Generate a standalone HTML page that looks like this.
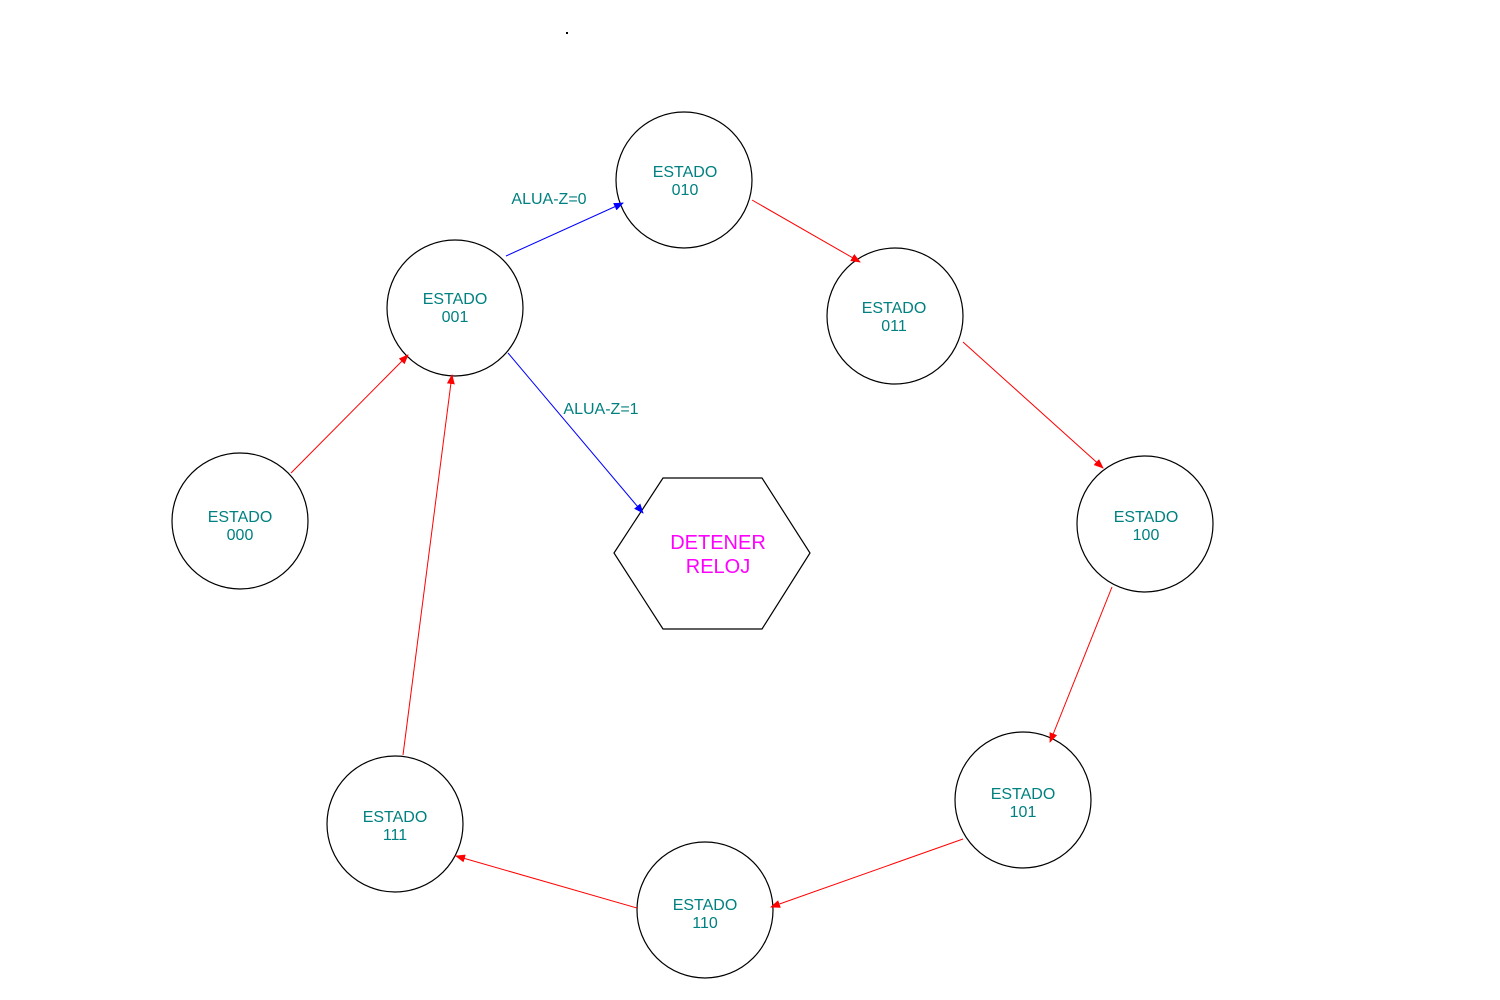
<!DOCTYPE html>
<html><head><meta charset="utf-8"><style>
html,body{margin:0;padding:0;background:#fff;width:1500px;height:1000px;overflow:hidden}
svg{display:block}
text{font-family:"Liberation Sans",sans-serif}
</style></head><body>
<svg width="1500" height="1000" viewBox="0 0 1500 1000" xmlns="http://www.w3.org/2000/svg">
<defs>
<marker id="ar" markerWidth="10" markerHeight="8" refX="9" refY="4" orient="auto" markerUnits="userSpaceOnUse"><path d="M0,0 L10,4 L0,8 z" fill="#f00"/></marker>
<marker id="ab" markerWidth="10" markerHeight="8" refX="9" refY="4" orient="auto" markerUnits="userSpaceOnUse"><path d="M0,0 L10,4 L0,8 z" fill="#00f"/></marker>
</defs>
<rect x="566" y="32" width="2" height="2" fill="#000"/>
<g fill="none" stroke="#000" stroke-width="1.2">
<circle cx="240" cy="521" r="68"/>
<circle cx="455" cy="308" r="68"/>
<circle cx="684" cy="180" r="68"/>
<circle cx="895" cy="316" r="68"/>
<circle cx="1145" cy="524" r="68"/>
<circle cx="1023" cy="800" r="68"/>
<circle cx="705" cy="910" r="68"/>
<circle cx="395" cy="824" r="68"/>
<polygon points="614,553 663,478 762,478 810,553 762,629 663,629"/>
</g>
<g stroke="#f00" stroke-width="1">
<line x1="291" y1="473" x2="408" y2="355" marker-end="url(#ar)"/>
<line x1="752" y1="200" x2="860" y2="262" marker-end="url(#ar)"/>
<line x1="963" y1="342" x2="1103" y2="468" marker-end="url(#ar)"/>
<line x1="1112" y1="587" x2="1050" y2="742" marker-end="url(#ar)"/>
<line x1="963" y1="839" x2="771" y2="907" marker-end="url(#ar)"/>
<line x1="637" y1="908" x2="456" y2="856" marker-end="url(#ar)"/>
<line x1="403" y1="755" x2="452" y2="375" marker-end="url(#ar)"/>
</g>
<g stroke="#00f" stroke-width="1">
<line x1="506" y1="256" x2="623" y2="203" marker-end="url(#ab)"/>
<line x1="508" y1="353" x2="643" y2="513" marker-end="url(#ab)"/>
</g>
<g fill="#008080" font-size="16" text-anchor="middle">
<text x="240" y="522">ESTADO</text><text x="240" y="540">000</text>
<text x="455" y="304">ESTADO</text><text x="455" y="322">001</text>
<text x="685" y="177">ESTADO</text><text x="685" y="195">010</text>
<text x="894" y="313">ESTADO</text><text x="894" y="331">011</text>
<text x="1146" y="522">ESTADO</text><text x="1146" y="540">100</text>
<text x="1023" y="799">ESTADO</text><text x="1023" y="817">101</text>
<text x="705" y="910">ESTADO</text><text x="705" y="928">110</text>
<text x="395" y="822">ESTADO</text><text x="395" y="840">111</text>
<text x="549" y="204">ALUA-Z=0</text>
<text x="601" y="414">ALUA-Z=1</text>
</g>
<g fill="#f0f" font-size="20" text-anchor="middle">
<text x="718" y="549">DETENER</text>
<text x="718" y="573">RELOJ</text>
</g>
</svg>
</body></html>
